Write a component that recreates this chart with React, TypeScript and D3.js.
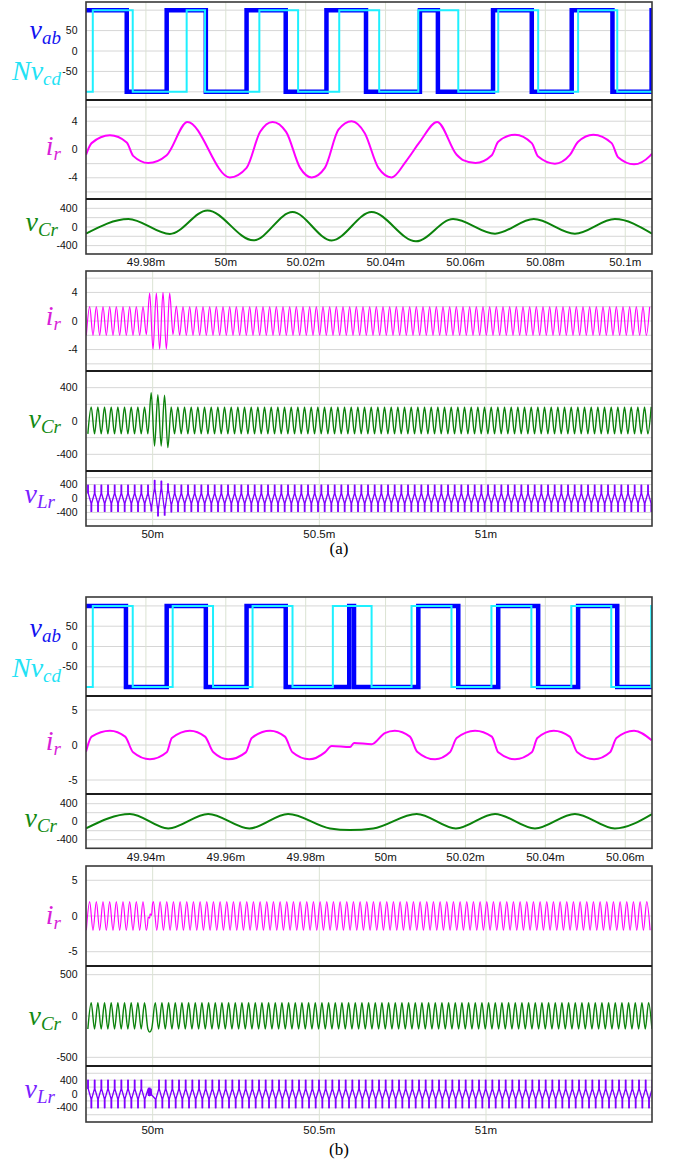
import React from "react";
import * as d3 from "d3";

type Pt = [number, number];

// ================= Axis ticks =================
const xTicksTopA = [49.98, 50, 50.02, 50.04, 50.06, 50.08, 50.1];
const xTickLabelsTopA = ["49.98m", "50m", "50.02m", "50.04m", "50.06m", "50.08m", "50.1m"];
const xTicksTopB = [49.94, 49.96, 49.98, 50, 50.02, 50.04, 50.06];
const xTickLabelsTopB = ["49.94m", "49.96m", "49.98m", "50m", "50.02m", "50.04m", "50.06m"];
const xTicksDense = [50, 50.5, 51];
const xTickLabelsDense = ["50m", "50.5m", "51m"];

const vabTicks = [50, 0, -50];
const vabTickLabels = ["50", "0", "-50"];
const vabGrid = [100, 50, 0, -50, -100];
const irTicksA = [4, 0, -4];
const irTickLabelsA = ["4", "0", "-4"];
const irGridA = [6, 4, 2, 0, -2, -4, -6];
const irTicksB = [5, 0, -5];
const irTickLabelsB = ["5", "0", "-5"];
const irGridB = [5, 0, -5];
const vCrTicks = [400, 0, -400];
const vCrTickLabels = ["400", "0", "-400"];
const vCrGrid = [400, 200, 0, -200, -400];
const vCrTicksBD = [500, 0, -500];
const vCrTickLabelsBD = ["500", "0", "-500"];
const vCrGridBD = [500, 0, -500];
const vLrTicks = [400, 0, -400];
const vLrTickLabels = ["400", "0", "-400"];
const vLrGrid = [600, 400, 200, 0, -200, -400, -600];

// ================= Fig (a), zoomed window (time in ms) =================
const vabTimesA = [49.965, 49.9752, 49.9852, 49.995, 50.0052, 50.015, 50.0252, 50.0351, 50.0486, 50.0531, 50.0669, 50.0766, 50.0866, 50.0968, 50.1066, 50.1067];
const vabLevelsA = [100, -100, 100, -100, 100, -100, 100, -100, 100, -100, 100, -100, 100, -100, 100, 100];
const nvcdTimesA = [49.965, 49.9667, 49.9767, 49.9902, 49.9948, 50.0084, 50.0181, 50.0284, 50.0384, 50.0482, 50.0582, 50.0682, 50.0782, 50.0882, 50.098, 50.1067];
const nvcdLevelsA = [-100, 100, -100, 100, -100, 100, -100, 100, -100, 100, -100, 100, -100, 100, -100, -100];

const irTimesA = [49.965, 49.9664, 49.971, 49.9752, 49.9768, 49.9806, 49.9852, 49.9904, 50.001, 50.0052, 50.0086, 50.0117, 50.0151, 50.0186, 50.0215, 50.0248, 50.0282, 50.0315, 50.0348, 50.0382, 50.0415, 50.0452, 50.0486, 50.0529, 50.0578, 50.0594, 50.0625, 50.0666, 50.0682, 50.0724, 50.0766, 50.0782, 50.0824, 50.0861, 50.0882, 50.092, 50.0966, 50.0982, 50.1022, 50.1062, 50.1067];
const irValuesA = [-0.75, 0.9, 2.0, 1.0, -0.9, -1.9, -0.8, 3.9, -3.95, -2.6, 2.5, 3.9, 2.5, -2.6, -3.95, -2.6, 2.8, 4.0, 2.3, -2.6, -3.95, -1.6, 1.1, 3.9, -0.75, -1.5, -1.9, -0.8, 1.1, 2.1, 0.9, -1.0, -2.0, -0.8, 1.1, 2.1, 0.9, -1.1, -2.1, -0.9, -0.6];

const vCrTimesA = [49.965, 49.9756, 49.986, 49.9954, 50.0069, 50.0167, 50.0265, 50.0365, 50.0476, 50.0569, 50.0674, 50.0771, 50.0874, 50.0974, 50.1067];
const vCrValuesA = [-143, 171, -150, 355, -287, 320, -290, 320, -308, 171, -143, 171, -143, 171, -143];

// ================= Fig (a), long window: half-cycle extremes every 0.01 ms =================
const irDenseStartA = 49.801;
const irDenseA = [
  -2, 2, -2, 2, -2, 2, -2, 2, -2, 2, -2, 2, -2, 2, -2, 2, -2, 2, -1.9, 3.9,
  -3.95, 3.9, -3.95, 4, -3.95, 3.9, -1.9, 2.1, -2, 2, -2, 2, -2, 2, -2, 2, -2, 2, -2, 2,
  -2, 2, -2, 2, -2, 2, -2, 2, -2, 2, -2, 2, -2, 2, -2, 2, -2, 2, -2, 2,
  -2, 2, -2, 2, -2, 2, -2, 2, -2, 2, -2, 2, -2, 2, -2, 2, -2, 2, -2, 2,
  -2, 2, -2, 2, -2, 2, -2, 2, -2, 2, -2, 2, -2, 2, -2, 2, -2, 2, -2, 2,
  -2, 2, -2, 2, -2, 2, -2, 2, -2, 2, -2, 2, -2, 2, -2, 2, -2, 2, -2, 2,
  -2, 2, -2, 2, -2, 2, -2, 2, -2, 2, -2, 2, -2, 2, -2, 2, -2, 2, -2, 2,
  -2, 2, -2, 2, -2, 2, -2, 2, -2, 2, -2, 2, -2, 2, -2, 2, -2, 2, -2, 2,
  -2, 2, -2, 2, -2, 2, -2, 2, -2, 2,
];
const vCrDenseStartA = 49.8056;
const vCrDenseA = [
  -155, 170, -155, 170, -155, 170, -155, 170, -155, 170, -155, 170, -155, 170, -155, 170, -155, 170, -155, 340,
  -300, 315, -300, 310, -320, 170, -155, 170, -155, 170, -155, 170, -155, 170, -155, 170, -155, 170, -155, 170,
  -155, 170, -155, 170, -155, 170, -155, 170, -155, 170, -155, 170, -155, 170, -155, 170, -155, 170, -155, 170,
  -155, 170, -155, 170, -155, 170, -155, 170, -155, 170, -155, 170, -155, 170, -155, 170, -155, 170, -155, 170,
  -155, 170, -155, 170, -155, 170, -155, 170, -155, 170, -155, 170, -155, 170, -155, 170, -155, 170, -155, 170,
  -155, 170, -155, 170, -155, 170, -155, 170, -155, 170, -155, 170, -155, 170, -155, 170, -155, 170, -155, 170,
  -155, 170, -155, 170, -155, 170, -155, 170, -155, 170, -155, 170, -155, 170, -155, 170, -155, 170, -155, 170,
  -155, 170, -155, 170, -155, 170, -155, 170, -155, 170, -155, 170, -155, 170, -155, 170, -155, 170, -155, 170,
  -155, 170, -155, 170, -155, 170, -155, 170, -155, 170,
];
const vLrDenseStartA = 49.8052;
const vLrSpikeWidth = 0.0017;
const vLrSpikesA = [
  385, -370, 385, -370, 385, -370, 385, -370, 385, -370, 385, -370, 385, -370, 385, -370, 385, -370, 385, -360,
  520, -500, 500, -480, 420, -380, 385, -370, 385, -370, 385, -370, 385, -370, 385, -370, 385, -370, 385, -370,
  385, -370, 385, -370, 385, -370, 385, -370, 385, -370, 385, -370, 385, -370, 385, -370, 385, -370, 385, -370,
  385, -370, 385, -370, 385, -370, 385, -370, 385, -370, 385, -370, 385, -370, 385, -370, 385, -370, 385, -370,
  385, -370, 385, -370, 385, -370, 385, -370, 385, -370, 385, -370, 385, -370, 385, -370, 385, -370, 385, -370,
  385, -370, 385, -370, 385, -370, 385, -370, 385, -370, 385, -370, 385, -370, 385, -370, 385, -370, 385, -370,
  385, -370, 385, -370, 385, -370, 385, -370, 385, -370, 385, -370, 385, -370, 385, -370, 385, -370, 385, -370,
  385, -370, 385, -370, 385, -370, 385, -370, 385, -370, 385, -370, 385, -370, 385, -370, 385, -370, 385, -370,
  385, -370, 385, -370, 385, -370, 385, -370, 385, -370,
];
const vLrBaseA = [
  145, -135, 145, -135, 145, -135, 145, -135, 145, -135, 145, -135, 145, -135, 145, -135, 145, -135, 145, -250,
  290, -320, 290, -320, 250, -170, 145, -135, 145, -135, 145, -135, 145, -135, 145, -135, 145, -135, 145, -135,
  145, -135, 145, -135, 145, -135, 145, -135, 145, -135, 145, -135, 145, -135, 145, -135, 145, -135, 145, -135,
  145, -135, 145, -135, 145, -135, 145, -135, 145, -135, 145, -135, 145, -135, 145, -135, 145, -135, 145, -135,
  145, -135, 145, -135, 145, -135, 145, -135, 145, -135, 145, -135, 145, -135, 145, -135, 145, -135, 145, -135,
  145, -135, 145, -135, 145, -135, 145, -135, 145, -135, 145, -135, 145, -135, 145, -135, 145, -135, 145, -135,
  145, -135, 145, -135, 145, -135, 145, -135, 145, -135, 145, -135, 145, -135, 145, -135, 145, -135, 145, -135,
  145, -135, 145, -135, 145, -135, 145, -135, 145, -135, 145, -135, 145, -135, 145, -135, 145, -135, 145, -135,
  145, -135, 145, -135, 145, -135, 145, -135, 145, -135,
];

// ================= Fig (b), zoomed window =================
const vabTimesB = [49.925, 49.935, 49.9452, 49.955, 49.9652, 49.975, 49.9909, 49.9921, 50.0082, 50.0182, 50.0282, 50.0382, 50.0482, 50.058, 50.0667];
const vabLevelsB = [100, -100, 100, -100, 100, -100, 100, -100, 100, -100, 100, -100, 100, -100, -100];
const nvcdTimesB = [49.925, 49.9267, 49.9367, 49.9467, 49.9568, 49.9667, 49.9767, 49.9868, 49.9965, 50.0065, 50.0165, 50.0265, 50.0365, 50.0465, 50.0565, 50.0665, 50.0667];
const nvcdLevelsB = [-100, 100, -100, 100, -100, 100, -100, 100, -100, 100, -100, 100, -100, 100, -100, 100, 100];

const irTimesB = [49.925, 49.9264, 49.931, 49.9348, 49.9368, 49.941, 49.9452, 49.9465, 49.951, 49.9548, 49.9569, 49.9606, 49.965, 49.9665, 49.9711, 49.9748, 49.9767, 49.9809, 49.9848, 49.9865, 49.9911, 49.9921, 49.9965, 49.9998, 50.0023, 50.0061, 50.0079, 50.0124, 50.0161, 50.0178, 50.0224, 50.0266, 50.0282, 50.0324, 50.0366, 50.038, 50.0421, 50.0461, 50.048, 50.0522, 50.0562, 50.0578, 50.0622, 50.0666];
const irValuesB = [-0.95, 1.2, 2.05, 1.2, -1.05, -2.05, -1.05, 1.0, 2.05, 1.2, -1.05, -2.05, -1.05, 1.0, 2.05, 1.2, -1.05, -2.05, -1.05, -0.15, -0.3, 0.3, 0.1, 1.7, 2.05, 1.2, -0.95, -2.05, -1.05, 1.0, 2.05, 1.2, -1.05, -2.05, -1.05, 1.0, 2.05, 1.2, -1.05, -2.05, -1.05, 1.0, 2.05, 0.7];

const vCrTimesB = [49.925, 49.936, 49.9456, 49.9556, 49.9659, 49.9756, 49.9861, 49.9911, 49.9969, 50.0078, 50.0176, 50.0274, 50.0374, 50.0474, 50.0574, 50.0667];
const vCrValuesB = [-148, 171, -150, 171, -150, 171, -150, -185, -150, 171, -150, 171, -150, 171, -150, 171];

// ================= Fig (b), long window =================
const irDenseStartB = 49.801;
const irDensePreB = [-2, 2, -2, 2, -2, 2, -2, 2, -2, 2, -2, 2, -2, 2, -2, 2, -2, 2, -2];
const irDenseGlitchB: Pt[] = [[49.9848, -1.05], [49.9865, -0.15], [49.9911, -0.3], [49.9921, 0.3], [49.9965, 0.1], [49.9998, 1.7]];
const irDensePostStartB = 50.0023;
const irDensePostB = [
  2, -2, 2, -2, 2, -2, 2, -2, 2, -2, 2, -2, 2, -2, 2, -2, 2, -2, 2, -2,
  2, -2, 2, -2, 2, -2, 2, -2, 2, -2, 2, -2, 2, -2, 2, -2, 2, -2, 2, -2,
  2, -2, 2, -2, 2, -2, 2, -2, 2, -2, 2, -2, 2, -2, 2, -2, 2, -2, 2, -2,
  2, -2, 2, -2, 2, -2, 2, -2, 2, -2, 2, -2, 2, -2, 2, -2, 2, -2, 2, -2,
  2, -2, 2, -2, 2, -2, 2, -2, 2, -2, 2, -2, 2, -2, 2, -2, 2, -2, 2, -2,
  2, -2, 2, -2, 2, -2, 2, -2, 2, -2, 2, -2, 2, -2, 2, -2, 2, -2, 2, -2,
  2, -2, 2, -2, 2, -2, 2, -2, 2, -2, 2, -2, 2, -2, 2, -2, 2, -2, 2, -2,
  2, -2, 2, -2, 2, -2, 2, -2, 2, -2,
];
const vCrDenseStartB = 49.8056;
const vCrDensePreB = [-158, 160, -158, 160, -158, 160, -158, 160, -158, 160, -158, 160, -158, 160, -158, 160, -158, 160, -158];
const vCrDenseGlitchB: Pt[] = [[49.9911, -195], [49.9969, -158]];
const vCrDensePostStartB = 50.0078;
const vCrDensePostB = [
  160, -158, 160, -158, 160, -158, 160, -158, 160, -158, 160, -158, 160, -158, 160, -158, 160, -158, 160, -158,
  160, -158, 160, -158, 160, -158, 160, -158, 160, -158, 160, -158, 160, -158, 160, -158, 160, -158, 160, -158,
  160, -158, 160, -158, 160, -158, 160, -158, 160, -158, 160, -158, 160, -158, 160, -158, 160, -158, 160, -158,
  160, -158, 160, -158, 160, -158, 160, -158, 160, -158, 160, -158, 160, -158, 160, -158, 160, -158, 160, -158,
  160, -158, 160, -158, 160, -158, 160, -158, 160, -158, 160, -158, 160, -158, 160, -158, 160, -158, 160, -158,
  160, -158, 160, -158, 160, -158, 160, -158, 160, -158, 160, -158, 160, -158, 160, -158, 160, -158, 160, -158,
  160, -158, 160, -158, 160, -158, 160, -158, 160, -158, 160, -158, 160, -158, 160, -158, 160, -158, 160, -158,
  160, -158, 160, -158, 160, -158, 160, -158, 160, -158,
];
const vLrDenseStartB = 49.8052;
const vLrSpikesPreB = [400, -400, 400, -400, 400, -400, 400, -400, 400, -400, 400, -400, 400, -400, 400, -400, 400, -400];
const vLrBasePreB = [145, -145, 145, -145, 145, -145, 145, -145, 145, -145, 145, -145, 145, -145, 145, -145, 145, -145];
const vLrGlitchB: Pt[] = [[49.9865, 150], [49.9874, -40], [49.9883, 170], [49.9892, -30], [49.9901, 160], [49.991, -50], [49.9919, 170], [49.9928, -40], [49.9937, 150], [49.9946, -30], [49.9955, 140], [49.9964, -20]];
const vLrDensePostStartB = 50.0082;
const vLrSpikesPostB = [
  -400, 400, -400, 400, -400, 400, -400, 400, -400, 400, -400, 400, -400, 400, -400, 400, -400, 400, -400, 400,
  -400, 400, -400, 400, -400, 400, -400, 400, -400, 400, -400, 400, -400, 400, -400, 400, -400, 400, -400, 400,
  -400, 400, -400, 400, -400, 400, -400, 400, -400, 400, -400, 400, -400, 400, -400, 400, -400, 400, -400, 400,
  -400, 400, -400, 400, -400, 400, -400, 400, -400, 400, -400, 400, -400, 400, -400, 400, -400, 400, -400, 400,
  -400, 400, -400, 400, -400, 400, -400, 400, -400, 400, -400, 400, -400, 400, -400, 400, -400, 400, -400, 400,
  -400, 400, -400, 400, -400, 400, -400, 400, -400, 400, -400, 400, -400, 400, -400, 400, -400, 400, -400, 400,
  -400, 400, -400, 400, -400, 400, -400, 400, -400, 400, -400, 400, -400, 400, -400, 400, -400, 400, -400, 400,
  -400, 400, -400, 400, -400, 400, -400, 400, -400, 400,
];
const vLrBasePostB = [
  -145, 145, -145, 145, -145, 145, -145, 145, -145, 145, -145, 145, -145, 145, -145, 145, -145, 145, -145, 145,
  -145, 145, -145, 145, -145, 145, -145, 145, -145, 145, -145, 145, -145, 145, -145, 145, -145, 145, -145, 145,
  -145, 145, -145, 145, -145, 145, -145, 145, -145, 145, -145, 145, -145, 145, -145, 145, -145, 145, -145, 145,
  -145, 145, -145, 145, -145, 145, -145, 145, -145, 145, -145, 145, -145, 145, -145, 145, -145, 145, -145, 145,
  -145, 145, -145, 145, -145, 145, -145, 145, -145, 145, -145, 145, -145, 145, -145, 145, -145, 145, -145, 145,
  -145, 145, -145, 145, -145, 145, -145, 145, -145, 145, -145, 145, -145, 145, -145, 145, -145, 145, -145, 145,
  -145, 145, -145, 145, -145, 145, -145, 145, -145, 145, -145, 145, -145, 145, -145, 145, -145, 145, -145, 145,
  -145, 145, -145, 145, -145, 145, -145, 145, -145, 145,
];

// ================= helpers =================
const zip = (ts: number[], vs: number[]): Pt[] => ts.map((t, i) => [t, vs[i]] as Pt);
const halfCycles = (t0: number, vs: number[]): Pt[] => vs.map((v, i) => [t0 + i * 0.01, v] as Pt);
const spikeTrain = (t0: number, spikes: number[], bases: number[]): Pt[] => {
  const out: Pt[] = [];
  spikes.forEach((s, i) => {
    const t = t0 + i * 0.01;
    out.push([t, bases[i]], [t, s], [t + vLrSpikeWidth, s], [t + vLrSpikeWidth, bases[i]]);
  });
  return out;
};

const PL = 86;
const PR = 652;
const SANS = "'Liberation Sans', Arial, Helvetica, sans-serif";
const SERIF = "'Liberation Serif', 'Times New Roman', Times, serif";

const C_BLUE = "#0000ff";
const C_CYAN = "#1ef0ff";
const C_MAG = "#ff00ff";
const C_GREEN = "#0b820b";
const C_PURP = "#8000ff";

type CurveKind = "step" | "smooth" | "linear";
interface SeriesDef { pts: Pt[]; color: string; width: number; curve: CurveKind }
interface LabelDef { main: string; sub: string; color: string; y: number; x?: number }
interface PanelDef {
  y0: number; y1: number; domain: [number, number];
  grid: number[]; ticks: number[]; tickLabels: string[];
  series: SeriesDef[]; labels: LabelDef[];
}
interface GroupDef { xDomain: [number, number]; xTicks: number[]; xLabels: string[]; xLabelY: number; panels: PanelDef[] }

const curves: Record<CurveKind, d3.CurveFactory> = {
  step: d3.curveStepAfter,
  smooth: d3.curveMonotoneX,
  linear: d3.curveLinear,
};

const groups: GroupDef[] = [
  {
    xDomain: [49.965, 50.1067], xTicks: xTicksTopA, xLabels: xTickLabelsTopA, xLabelY: 266,
    panels: [
      {
        y0: 2, y1: 100, domain: [-120, 120], grid: vabGrid, ticks: vabTicks, tickLabels: vabTickLabels,
        series: [
          { pts: zip(vabTimesA, vabLevelsA), color: C_BLUE, width: 4.5, curve: "step" },
          { pts: zip(nvcdTimesA, nvcdLevelsA), color: C_CYAN, width: 2, curve: "step" },
        ],
        labels: [
          { main: "v", sub: "ab", color: "#1212f0", y: 38.5 },
          { main: "Nv", sub: "cd", color: "#22e2f5", y: 79.5 },
        ],
      },
      {
        y0: 100, y1: 199, domain: [-7, 7], grid: irGridA, ticks: irTicksA, tickLabels: irTickLabelsA,
        series: [{ pts: zip(irTimesA, irValuesA), color: C_MAG, width: 2, curve: "smooth" }],
        labels: [{ main: "i", sub: "r", color: "#d81ed8", y: 155 }],
      },
      {
        y0: 199, y1: 254, domain: [-580, 600], grid: vCrGrid, ticks: vCrTicks, tickLabels: vCrTickLabels,
        series: [{ pts: zip(vCrTimesA, vCrValuesA), color: C_GREEN, width: 2, curve: "smooth" }],
        labels: [{ main: "v", sub: "Cr", color: "#148a14", y: 231, x: 58 }],
      },
    ],
  },
  {
    xDomain: [49.8, 51.498], xTicks: xTicksDense, xLabels: xTickLabelsDense, xLabelY: 538,
    panels: [
      {
        y0: 271, y1: 371, domain: [-7, 7], grid: irGridA, ticks: irTicksA, tickLabels: irTickLabelsA,
        series: [{ pts: halfCycles(irDenseStartA, irDenseA), color: C_MAG, width: 1.2, curve: "smooth" }],
        labels: [{ main: "i", sub: "r", color: "#d81ed8", y: 325 }],
      },
      {
        y0: 371, y1: 471, domain: [-600, 600], grid: vCrGrid, ticks: vCrTicks, tickLabels: vCrTickLabels,
        series: [{ pts: halfCycles(vCrDenseStartA, vCrDenseA), color: C_GREEN, width: 1.4, curve: "smooth" }],
        labels: [{ main: "v", sub: "Cr", color: "#148a14", y: 428 }],
      },
      {
        y0: 471, y1: 526, domain: [-790, 790], grid: vLrGrid, ticks: vLrTicks, tickLabels: vLrTickLabels,
        series: [{ pts: spikeTrain(vLrDenseStartA, vLrSpikesA, vLrBaseA), color: C_PURP, width: 1.3, curve: "linear" }],
        labels: [{ main: "v", sub: "Lr", color: "#7a22ff", y: 503, x: 55 }],
      },
    ],
  },
  {
    xDomain: [49.925, 50.0667], xTicks: xTicksTopB, xLabels: xTickLabelsTopB, xLabelY: 861,
    panels: [
      {
        y0: 597, y1: 696, domain: [-122, 122], grid: vabGrid, ticks: vabTicks, tickLabels: vabTickLabels,
        series: [
          { pts: zip(vabTimesB, vabLevelsB), color: C_BLUE, width: 4.5, curve: "step" },
          { pts: zip(nvcdTimesB, nvcdLevelsB), color: C_CYAN, width: 2, curve: "step" },
        ],
        labels: [
          { main: "v", sub: "ab", color: "#1212f0", y: 637 },
          { main: "Nv", sub: "cd", color: "#22e2f5", y: 677 },
        ],
      },
      {
        y0: 696, y1: 794, domain: [-7, 7], grid: irGridB, ticks: irTicksB, tickLabels: irTickLabelsB,
        series: [{ pts: zip(irTimesB, irValuesB), color: C_MAG, width: 2, curve: "smooth" }],
        labels: [{ main: "i", sub: "r", color: "#d81ed8", y: 750 }],
      },
      {
        y0: 794, y1: 848.3, domain: [-591, 615], grid: vCrGrid, ticks: vCrTicks, tickLabels: vCrTickLabels,
        series: [{ pts: zip(vCrTimesB, vCrValuesB), color: C_GREEN, width: 2, curve: "smooth" }],
        labels: [{ main: "v", sub: "Cr", color: "#148a14", y: 827, x: 57 }],
      },
    ],
  },
  {
    xDomain: [49.8, 51.498], xTicks: xTicksDense, xLabels: xTickLabelsDense, xLabelY: 1134,
    panels: [
      {
        y0: 866, y1: 966, domain: [-7, 7], grid: irGridB, ticks: irTicksB, tickLabels: irTickLabelsB,
        series: [{
          pts: [...halfCycles(irDenseStartB, irDensePreB), ...irDenseGlitchB, ...halfCycles(irDensePostStartB, irDensePostB)],
          color: C_MAG, width: 1.2, curve: "smooth",
        }],
        labels: [{ main: "i", sub: "r", color: "#d81ed8", y: 924 }],
      },
      {
        y0: 966, y1: 1066, domain: [-605, 605], grid: vCrGridBD, ticks: vCrTicksBD, tickLabels: vCrTickLabelsBD,
        series: [{
          pts: [...halfCycles(vCrDenseStartB, vCrDensePreB), ...vCrDenseGlitchB, ...halfCycles(vCrDensePostStartB, vCrDensePostB)],
          color: C_GREEN, width: 1.4, curve: "smooth",
        }],
        labels: [{ main: "v", sub: "Cr", color: "#148a14", y: 1025 }],
      },
      {
        y0: 1066, y1: 1122, domain: [-810, 810], grid: vLrGrid, ticks: vLrTicks, tickLabels: vLrTickLabels,
        series: [{
          pts: [...spikeTrain(vLrDenseStartB, vLrSpikesPreB, vLrBasePreB), ...vLrGlitchB, ...spikeTrain(vLrDensePostStartB, vLrSpikesPostB, vLrBasePostB)],
          color: C_PURP, width: 1.3, curve: "linear",
        }],
        labels: [{ main: "v", sub: "Lr", color: "#7a22ff", y: 1098, x: 55 }],
      },
    ],
  },
];

function Group({ g, gi }: { g: GroupDef; gi: number }) {
  const x = d3.scaleLinear().domain(g.xDomain).range([PL, PR]);
  const top = g.panels[0].y0;
  const bottom = g.panels[g.panels.length - 1].y1;
  return (
    <g>
      <defs>
        {g.panels.map((p, pi) => (
          <clipPath key={pi} id={`clip-${gi}-${pi}`}>
            <rect x={PL} y={p.y0} width={PR - PL} height={p.y1 - p.y0} />
          </clipPath>
        ))}
      </defs>
      {g.panels.map((p, pi) => {
        const y = d3.scaleLinear().domain(p.domain).range([p.y1, p.y0]);
        return (
          <g key={`hg${pi}`}>
            {p.grid.map((v) => (
              <line key={v} x1={PL} x2={PR} y1={y(v)} y2={y(v)} stroke="#d6d6d6" strokeWidth={1} />
            ))}
          </g>
        );
      })}
      {g.xTicks.map((t) => (
        <line key={t} x1={x(t)} x2={x(t)} y1={top} y2={bottom} stroke="#dbe3d3" strokeWidth={1} />
      ))}
      {g.panels.map((p, pi) => {
        const y = d3.scaleLinear().domain(p.domain).range([p.y1, p.y0]);
        return (
          <g key={`s${pi}`} clipPath={`url(#clip-${gi}-${pi})`}>
            {p.series.map((s, si) => {
              const line = d3.line<Pt>().x((d) => x(d[0])).y((d) => y(d[1])).curve(curves[s.curve]);
              return (
                <path key={si} d={line(s.pts) || ""} fill="none" stroke={s.color} strokeWidth={s.width}
                  strokeLinejoin={s.curve === "step" ? "miter" : "round"} strokeLinecap="butt" />
              );
            })}
          </g>
        );
      })}
      <rect x={PL} y={top} width={PR - PL} height={bottom - top} fill="none" stroke="#3a3a3a" strokeWidth={1.6} />
      {g.panels.slice(1).map((p, pi) => (
        <line key={`d${pi}`} x1={PL} x2={PR} y1={p.y0} y2={p.y0} stroke="#1c1c1c" strokeWidth={2} />
      ))}
      {g.panels.map((p, pi) => {
        const y = d3.scaleLinear().domain(p.domain).range([p.y1, p.y0]);
        return (
          <g key={`yt${pi}`}>
            {p.ticks.map((v, i) => (
              <text key={v} x={77.5} y={y(v) + 3.6} textAnchor="end" fontFamily={SANS} fontSize={10.5} fill="#111">
                {p.tickLabels[i]}
              </text>
            ))}
          </g>
        );
      })}
      {g.xTicks.map((t, i) => (
        <text key={`xt${t}`} x={x(t)} y={g.xLabelY} textAnchor="middle" fontFamily={SANS} fontSize={11.5} fill="#111">
          {g.xLabels[i]}
        </text>
      ))}
      {g.panels.map((p, pi) => (
        <g key={`lb${pi}`}>
          {p.labels.map((l, li) => (
            <text key={li} x={l.x ?? 61} y={l.y} textAnchor="end" fontFamily={SERIF} fontStyle="italic" fontSize={28} fill={l.color}>
              {l.main}
              <tspan fontSize={19} dy={5}>{l.sub}</tspan>
            </text>
          ))}
        </g>
      ))}
    </g>
  );
}

export default function App() {
  return (
    <svg width={673} height={1168} viewBox="0 0 673 1168"
      style={{ position: "absolute", left: 0, top: 0, display: "block", background: "#fff" }}>
      <rect x={0} y={0} width={673} height={1168} fill="#fff" />
      {groups.map((g, gi) => <Group key={gi} g={g} gi={gi} />)}
      <text x={339} y={554} textAnchor="middle" fontFamily={SERIF} fontSize={17} fill="#000">(a)</text>
      <text x={339} y={1155} textAnchor="middle" fontFamily={SERIF} fontSize={17} fill="#000">(b)</text>
    </svg>
  );
}
